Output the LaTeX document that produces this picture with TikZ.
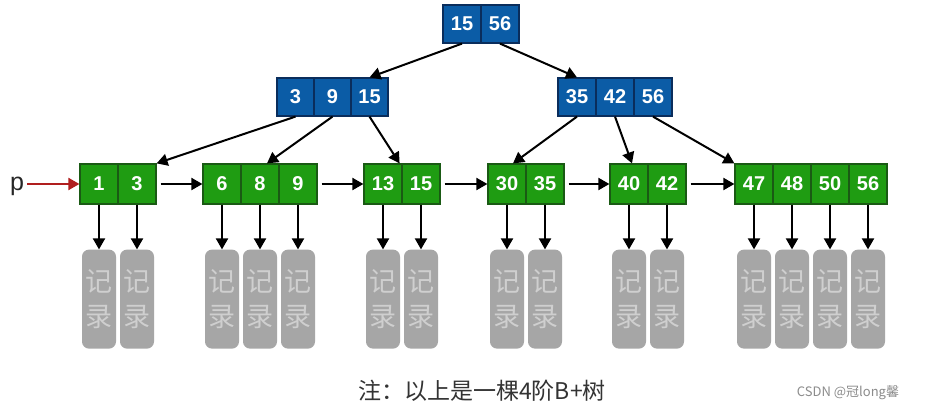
\documentclass[tikz,border=0pt]{standalone}
\usepackage{fontspec}
\setmainfont{Liberation Sans}
\newfontfamily\cjk{Noto Sans CJK SC}
\newfontfamily\cjkm{Noto Sans CJK SC Medium}
\usetikzlibrary{arrows.meta}
\definecolor{nodeblue}{HTML}{0B5CA6}
\definecolor{blueedge}{HTML}{0A2D5C}
\definecolor{leafgreen}{HTML}{1F9C12}
\definecolor{greenedge}{HTML}{1A5A14}
\definecolor{recgray}{HTML}{A6A6A6}
\definecolor{reclight}{HTML}{CFCFCF}
\definecolor{pred}{HTML}{B01E1E}
\tikzset{
  cell/.style={draw, line width=1.2pt, inner sep=0pt, text=white,
    font=\fontsize{20}{20}\selectfont\bfseries},
  bluecell/.style={cell, fill=nodeblue, draw=blueedge, minimum width=38pt, minimum height=38pt},
  greencell/.style={cell, fill=leafgreen, draw=greenedge, minimum width=38pt, minimum height=40pt},
  rec/.style={fill=recgray, rounded corners=7pt, minimum width=34pt, minimum height=99pt,
    inner sep=0pt, align=center, text=reclight, font=\cjk\fontsize{27}{35}\selectfont},
  arr/.style={line width=2pt, -{Triangle[length=11pt,width=12pt]}},
  redarr/.style={line width=2pt, draw=pred, -{Triangle[length=11pt,width=12pt]}, pred}
}
\begin{document}
\begin{tikzpicture}[x=1pt,y=-1pt]
\useasboundingbox[fill=white] (0,0) rectangle (934,412);
% root
\node[bluecell] (R1) at (462,24) {15};
\node[bluecell] (R2) at (500,24) {56};
% level 2
\node[bluecell, minimum width=37pt] (A1) at (295.5,97) {3};
\node[bluecell, minimum width=37pt] (A2) at (332.5,97) {9};
\node[bluecell, minimum width=37pt] (A3) at (369.5,97) {15};
\node[bluecell] (B1) at (577,97) {35};
\node[bluecell] (B2) at (615,97) {42};
\node[bluecell] (B3) at (653,97) {56};
% leaves
\node[greencell] (L1a) at (99,184) {1};
\node[greencell] (L1b) at (137,184) {3};
\node[greencell] (L2a) at (222,184) {6};
\node[greencell] (L2b) at (260,184) {8};
\node[greencell] (L2c) at (298,184) {9};
\node[greencell] (L3a) at (383,184) {13};
\node[greencell] (L3b) at (421,184) {15};
\node[greencell] (L4a) at (507,184) {30};
\node[greencell] (L4b) at (545,184) {35};
\node[greencell] (L5a) at (629,184) {40};
\node[greencell] (L5b) at (667,184) {42};
\node[greencell] (L6a) at (754,184) {47};
\node[greencell] (L6b) at (792,184) {48};
\node[greencell] (L6c) at (830,184) {50};
\node[greencell] (L6d) at (868,184) {56};
% records
\foreach \n in {L1a,L1b,L2a,L2b,L2c,L3a,L3b,L4a,L4b,L5a,L5b,L6a,L6b,L6c,L6d}{
  \path (\n.south) ++(0,94.5) node[rec] (rec\n) {记\\录};
  \draw[arr] (\n.south) -- (rec\n.north);
}
% tree edges
\draw[arr] (R1.south) -- (A3.north);
\draw[arr] (R2.south) -- (B1.north);
\draw[arr] (A1.south) -- (L1b.north east);
\draw[arr] (A2.south) -- ([xshift=7pt]L2b.north);
\draw[arr] (A3.south) -- ([xshift=-3pt]L3a.north east);
\draw[arr] (B1.south) -- ([xshift=6pt]L4a.north);
\draw[arr] (B2.south) -- ([xshift=3pt]L5a.north);
\draw[arr] (B3.south) -- (L6a.north west);
% leaf chain
\draw[arr] ([xshift=4pt]L1b.east) -- (L2a.west);
\draw[arr] ([xshift=4pt]L2c.east) -- (L3a.west);
\draw[arr] ([xshift=4pt]L3b.east) -- (L4a.west);
\draw[arr] ([xshift=4pt]L4b.east) -- (L5a.west);
\draw[arr] ([xshift=4pt]L5b.east) -- (L6a.west);
% p pointer
\node[font=\fontsize{25}{25}\selectfont, text=black!85, anchor=base, inner sep=1pt] (p) at (17,190) {p};
\draw[redarr] ([xshift=2pt]p.east |- L1a.west) -- (L1a.west);
% caption
\node[font=\cjk\fontsize{23}{23}\selectfont, text=black!80] (cap) at (482,391) {注：以上是一棵4阶B+树};
\node[font=\cjk\fontsize{13}{13}\selectfont, text=black!45] (wm) at (848,393) {CSDN @冠long馨};
\end{tikzpicture}
\end{document}
